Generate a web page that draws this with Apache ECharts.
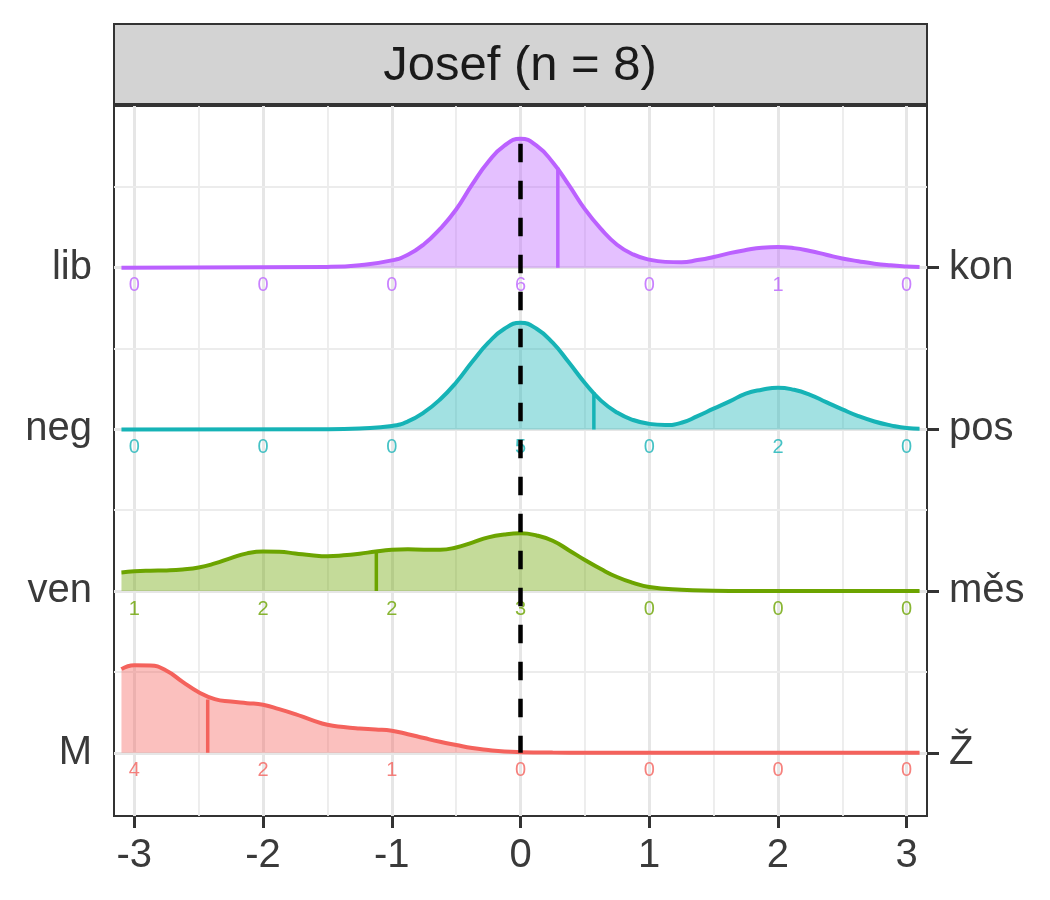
<!DOCTYPE html>
<html>
<head>
<meta charset="utf-8">
<script src="https://cdn.jsdelivr.net/npm/echarts@6/dist/echarts.min.js"></script>
<style>
html, body { margin: 0; padding: 0; background: #fff; }
#main { width: 1050px; height: 900px; }
</style>
</head>
<body>
<div id="main"></div>
<script>
// rows from bottom (1) to top (4)
var leftNames = ['M', 'ven', 'neg', 'lib'];
var rightNames = ['Ž', 'měs', 'pos', 'kon'];
var rowColors = ['#F4625C', '#6CA400', '#16B3B6', '#BB61FF'];

// counts shown under each ridge at x = -3..3
var countX = [-3, -2, -1, 0, 1, 2, 3];
var countsM = [4, 2, 1, 0, 0, 0, 0];
var countsVen = [1, 2, 2, 3, 0, 0, 0];
var countsNeg = [0, 0, 0, 5, 0, 2, 0];
var countsLib = [0, 0, 0, 6, 0, 1, 0];

// mean markers (x) and their height on the ridge (row units)
var meanX = [-2.43, -1.12, 0.57, 0.29];
var meanH = [0.33, 0.245, 0.23, 0.618];

// ridge heights (row units)
var xM = [-3.1, -3.0, -2.875, -2.75, -2.625, -2.5, -2.375, -2.25, -2.125, -2.0,
  -1.875, -1.75, -1.625, -1.5, -1.375, -1.25, -1.125, -1.0,
  -0.875, -0.75, -0.625, -0.5, -0.375, -0.25, -0.125, 0,
  0.25, 0.5, 1, 2, 3.1];
var hM = [0.517, 0.542, 0.54, 0.507, 0.439, 0.375, 0.332, 0.317, 0.307, 0.297,
  0.27, 0.239, 0.204, 0.173, 0.159, 0.15, 0.144, 0.136,
  0.115, 0.091, 0.068, 0.048, 0.029, 0.017, 0.008, 0.004,
  0.001, 0, 0, 0, 0];

var xVen = [-3.1, -3.0, -2.875, -2.75, -2.625, -2.5, -2.375, -2.25, -2.125, -2.0,
  -1.875, -1.75, -1.625, -1.5, -1.375, -1.25, -1.125, -1.0,
  -0.875, -0.75, -0.625, -0.5, -0.375, -0.25, -0.125, 0,
  0.125, 0.25, 0.375, 0.5, 0.625, 0.75, 0.875, 1.0,
  1.25, 1.5, 1.75, 2, 3.1];
var hVen = [0.115, 0.122, 0.126, 0.128, 0.134, 0.146, 0.171, 0.204, 0.233, 0.245,
  0.243, 0.233, 0.222, 0.216, 0.221, 0.231, 0.245, 0.255,
  0.258, 0.256, 0.256, 0.27, 0.3, 0.332, 0.35, 0.357,
  0.344, 0.311, 0.253, 0.192, 0.136, 0.087, 0.051, 0.025,
  0.008, 0.002, 0, 0, 0];

var xTop = [-3.1, -1.5, -1.25, -1.0,
  -0.875, -0.75, -0.625, -0.5, -0.375, -0.25, -0.125, 0,
  0.125, 0.25, 0.375, 0.5, 0.625, 0.75, 0.875, 1.0,
  1.125, 1.25, 1.375, 1.5, 1.625, 1.75, 1.875, 2.0,
  2.125, 2.25, 2.375, 2.5, 2.625, 2.75, 2.875, 3.0,
  3.1];
var hNeg = [0, 0.001, 0.006, 0.021,
  0.049, 0.105, 0.185, 0.29, 0.418, 0.536, 0.622, 0.659,
  0.622, 0.536, 0.415, 0.287, 0.178, 0.104, 0.058, 0.034,
  0.027, 0.041, 0.082, 0.128, 0.173, 0.221, 0.245, 0.258,
  0.245, 0.214, 0.169, 0.124, 0.082, 0.049, 0.025, 0.008,
  0.004];
var hLib = [0, 0.005, 0.015, 0.045,
  0.08, 0.145, 0.24, 0.36, 0.515, 0.655, 0.755, 0.797,
  0.755, 0.652, 0.512, 0.362, 0.24, 0.142, 0.082, 0.05,
  0.036, 0.034, 0.047, 0.066, 0.09, 0.109, 0.124, 0.128,
  0.121, 0.103, 0.08, 0.057, 0.04, 0.025, 0.015, 0.008,
  0.004];

// dashed reference line at x = 0
var refX = 0;
var refTop = 4.766;

var ridges = [
  { x: xM, h: hM, counts: countsM },
  { x: xVen, h: hVen, counts: countsVen },
  { x: xTop, h: hNeg, counts: countsNeg },
  { x: xTop, h: hLib, counts: countsLib }
];

var xMajor = [-3, -2, -1, 0, 1, 2, 3];
var xMinor = [-2.5, -1.5, -0.5, 0.5, 1.5, 2.5];
var yMajor = [1, 2, 3, 4];
var yMinor = [1.5, 2.5, 3.5, 4.5];

var labelFont = 'Liberation Sans, Arial, Helvetica, sans-serif';

var majorStyle = { type: 'solid', width: 3, color: '#e6e6e6' };
var minorStyle = { type: 'solid', width: 1.8, color: '#ececec' };
var gridLines = [];
xMajor.forEach(function (v) { gridLines.push({ xAxis: v, lineStyle: majorStyle }); });
xMinor.forEach(function (v) { gridLines.push({ xAxis: v, lineStyle: minorStyle }); });
yMajor.forEach(function (v) { gridLines.push({ yAxis: v, lineStyle: majorStyle }); });
yMinor.forEach(function (v) { gridLines.push({ yAxis: v, lineStyle: minorStyle }); });

var series = [{
  type: 'line',
  data: [[0, 1]],
  symbol: 'none',
  lineStyle: { opacity: 0 },
  z: 1,
  silent: true,
  markLine: {
    z: 1,
    silent: true,
    symbol: 'none',
    label: { show: false },
    emphasis: { disabled: true },
    animation: false,
    lineStyle: { type: 'solid' },
    data: gridLines
  }
}];

ridges.forEach(function (r, i) {
  var row = i + 1;
  var col = rowColors[i];
  series.push({
    type: 'line',
    data: r.x.map(function (x, k) { return [x, row + r.h[k]]; }),
    symbol: 'none',
    smooth: 0.5,
    lineStyle: { color: col, width: 4 },
    areaStyle: { color: col, opacity: 0.4, origin: row },
    silent: true,
    z: 3
  });
  series.push({
    type: 'line',
    data: [[meanX[i], row], [meanX[i], row + meanH[i]]],
    symbol: 'none',
    lineStyle: { color: col, width: 3.5 },
    silent: true,
    z: 4
  });
  series.push({
    type: 'scatter',
    data: countX.map(function (x, k) { return [x, row, r.counts[k]]; }),
    symbolSize: 1,
    itemStyle: { color: 'transparent' },
    silent: true,
    z: 5,
    label: {
      show: true,
      position: 'inside',
      offset: [0, 18],
      formatter: function (p) { return String(p.data[2]); },
      color: col,
      fontSize: 20,
      fontFamily: labelFont
    }
  });
});

series.push({
  type: 'line',
  data: [[refX, refTop], [refX, 1]],
  symbol: 'none',
  lineStyle: { color: '#000', width: 4.5, type: [18.5, 18.5] },
  silent: true,
  z: 10
});

function yAxisFor(pos, names) {
  return {
    type: 'value',
    position: pos,
    min: 0.609,
    max: 5.0,
    axisLine: { show: false },
    splitLine: { show: false },
    axisTick: { show: true, length: 12, lineStyle: { color: '#333', width: 3 }, customValues: yMajor },
    axisLabel: {
      fontSize: 40, color: '#3a3a3a', margin: 22, fontFamily: labelFont, customValues: yMajor,
      formatter: function (v) { return names[Math.round(v) - 1]; }
    }
  };
}

var option = {
  animation: false,
  backgroundColor: '#fff',
  grid: {
    left: 114, right: 123, top: 106, bottom: 84,
    show: true, borderColor: '#333', borderWidth: 2, backgroundColor: 'transparent'
  },
  xAxis: {
    type: 'value',
    min: -3.158,
    max: 3.158,
    axisLine: { show: false },
    splitLine: { show: false },
    axisTick: { show: true, length: 12, lineStyle: { color: '#333', width: 3 }, customValues: xMajor },
    axisLabel: { fontSize: 40, color: '#3a3a3a', margin: 20, fontFamily: labelFont, customValues: xMajor }
  },
  yAxis: [yAxisFor('left', leftNames), yAxisFor('right', rightNames)],
  graphic: [
    {
      type: 'rect',
      shape: { x: 114, y: 24, width: 813, height: 80 },
      style: { fill: '#d3d3d3', stroke: '#333', lineWidth: 2 },
      z: 0
    },
    {
      type: 'text',
      x: 520,
      y: 66,
      style: {
        text: 'Josef (n = 8)',
        font: '49px ' + labelFont,
        fill: '#1a1a1a',
        textAlign: 'center',
        textVerticalAlign: 'middle'
      }
    }
  ],
  series: series
};

var myChart = echarts.init(document.getElementById('main'));
myChart.setOption(option);
</script>
</body>
</html>
